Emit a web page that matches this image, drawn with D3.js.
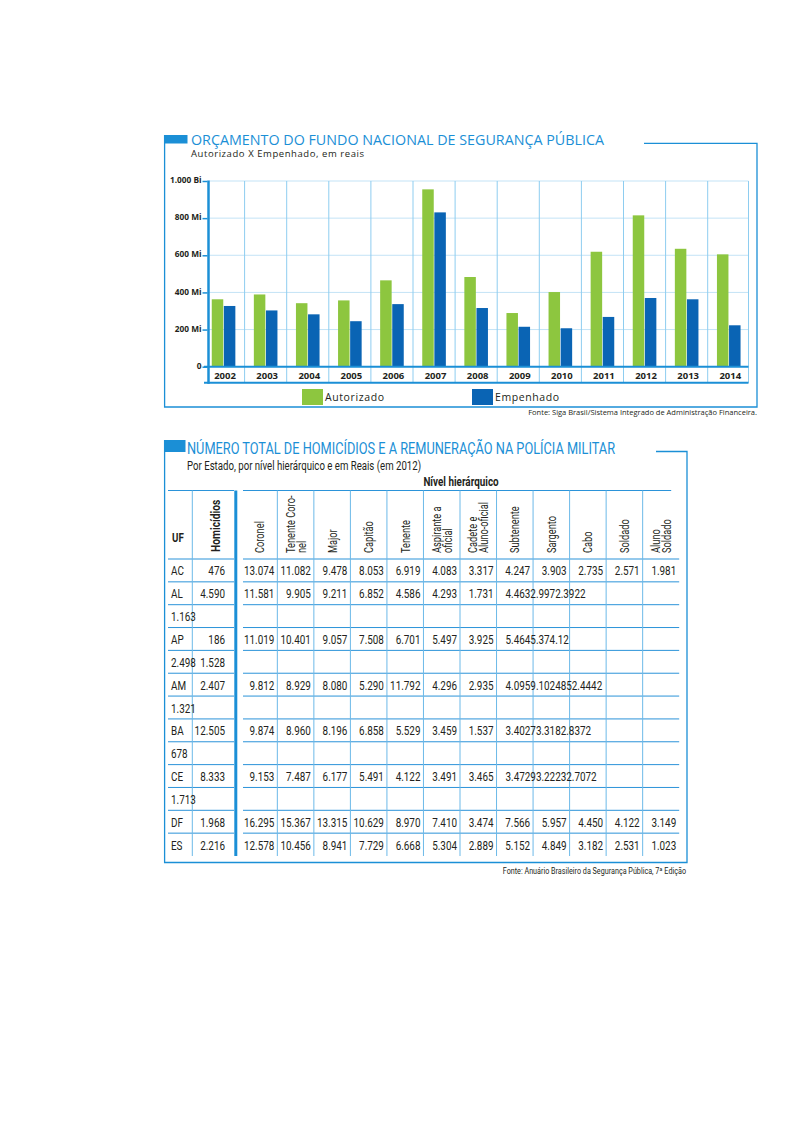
<!DOCTYPE html>
<html><head><meta charset="utf-8">
<script src="https://cdn.jsdelivr.net/npm/d3@7"></script>
<style>body{margin:0;background:#fff} svg{display:block}</style>
</head><body>
<script>
// ---------- Chart 1 data ----------
const years = ["2002","2003","2004","2005","2006","2007","2008","2009","2010","2011","2012","2013","2014"];
const autorizado = [363,389,342,357,465,955,483,289,402,619,815,635,605];
const empenhado  = [327,303,282,245,337,831,316,215,207,268,370,363,223];
const seriesNames = ["Autorizado","Empenhado"];
const yTicks = [0,200,400,600,800,1000];
const yTickLabels = ["0","200 Mi","400 Mi","600 Mi","800 Mi","1.000 Bi"];

// ---------- Table data ----------
const ufLabels = ["AC","AL","1.163","AP","2.498","AM","1.321","BA","678","CE","1.713","DF","ES"];
const homicidios = ["476","4.590","","186","1.528","2.407","","12.505","","8.333","","1.968","2.216"];
const levelLabels = [["Coronel"],["Tenente Coro-","nel"],["Major"],["Capitão"],["Tenente"],["Aspirante a","oficial"],["Cadete e","Aluno-oficial"],["Subtenente"],["Sargento"],["Cabo"],["Soldado"],["Aluno","Soldado"]];
const salaries = [
  ["13.074","11.082","9.478","8.053","6.919","4.083","3.317","4.247","3.903","2.735","2.571","1.981"],
  ["11.581","9.905","9.211","6.852","4.586","4.293","1.731"],
  [],
  ["11.019","10.401","9.057","7.508","6.701","5.497","3.925"],
  [],
  ["9.812","8.929","8.080","5.290","11.792","4.296","2.935"],
  [],
  ["9.874","8.960","8.196","6.858","5.529","3.459","1.537"],
  [],
  ["9.153","7.487","6.177","5.491","4.122","3.491","3.465"],
  [],
  ["16.295","15.367","13.315","10.629","8.970","7.410","3.474","7.566","5.957","4.450","4.122","3.149"],
  ["12.578","10.456","8.941","7.729","6.668","5.304","2.889","5.152","4.849","3.182","2.531","1.023"]
];
// overlapping (garbled) text that starts in the "Subtenente" column
const overflowText = ["", "4.4632.9972.3922", "", "5.4645.374.12", "", "4.0959.1024852.4442", "", "3.40273.3182.8372", "", "3.47293.22232.7072", "", "", ""];

const BLUE = "#1b8fd6";
const INK = "#231f20";
const COND = "Roboto,'Noto Sans',sans-serif";
const SANS = "'Open Sans','Noto Sans',sans-serif";

// squeeze text horizontally to imitate a condensed typeface
function condense(sel, k){
  sel.each(function(){
    const L = this.getComputedTextLength();
    if (L > 0) d3.select(this).attr("textLength", L*k).attr("lengthAdjust","spacingAndGlyphs");
  });
}

const svg = d3.select("body").append("svg").attr("width",794).attr("height",1123);

// ================= Chart 1 =================
const g1 = svg.append("g");
g1.append("rect").attr("x",164).attr("y",135).attr("width",23.5).attr("height",8.5).attr("fill",BLUE);
g1.append("path").attr("d","M164.6,135 V407 H757 V143.4 H644").attr("fill","none").attr("stroke",BLUE).attr("stroke-width",1.3);
g1.append("text").attr("x",191).attr("y",144.5).text("ORÇAMENTO DO FUNDO NACIONAL DE SEGURANÇA PÚBLICA")
  .attr("font-family",SANS).attr("font-size",13.8).attr("fill",BLUE).attr("textLength",413).attr("lengthAdjust","spacingAndGlyphs");
g1.append("text").attr("x",191).attr("y",157).text("Autorizado X Empenhado, em reais")
  .attr("font-family",SANS).attr("font-size",9.5).attr("fill",INK).attr("textLength",173).attr("lengthAdjust","spacing");

const x = d3.scaleBand().domain(years).range([202.5, 749.8]);
const xs = d3.scaleBand().domain(seriesNames).range([0, 23.6]).paddingInner(0.05);
const y = d3.scaleLinear().domain([0,1000]).range([366.7,181]);
const color = d3.scaleOrdinal(seriesNames, ["#8dc63f","#0a64b4"]);
const xLeft = 208.5, xRight = 748.5, rowBottom = 382.8;

// horizontal grid
g1.append("g").selectAll("line").data(yTicks.filter(d=>d>0)).join("line")
  .attr("x1",xLeft).attr("x2",xRight).attr("y1",d=>y(d)).attr("y2",d=>y(d))
  .attr("stroke","#c3e3f6").attr("stroke-width",1);
// vertical grid
g1.append("g").selectAll("line").data(years.slice(1)).join("line")
  .attr("x1",d=>x(d)).attr("x2",d=>x(d)).attr("y1",y(1000)).attr("y2",rowBottom)
  .attr("stroke","#8ecdf0").attr("stroke-width",1);
g1.append("line").attr("x1",xRight).attr("x2",xRight).attr("y1",y(1000)).attr("y2",rowBottom).attr("stroke","#8ecdf0");

// bars
const pairOffset = (x.bandwidth() - 23.6)/2;
const barData = years.flatMap((yr,i)=>[
  {yr, s:"Autorizado", v:autorizado[i]},
  {yr, s:"Empenhado", v:empenhado[i]}]);
g1.append("g").selectAll("rect").data(barData).join("rect")
  .attr("x",d=>x(d.yr)+pairOffset+xs(d.s)).attr("width",xs.bandwidth())
  .attr("y",d=>y(d.v)).attr("height",d=>y(0)-y(d.v)).attr("fill",d=>color(d.s));

// axes lines
g1.append("line").attr("x1",204).attr("x2",xRight).attr("y1",y(0)).attr("y2",y(0)).attr("stroke",BLUE).attr("stroke-width",2);
g1.append("line").attr("x1",204).attr("x2",xRight).attr("y1",rowBottom).attr("y2",rowBottom).attr("stroke",BLUE).attr("stroke-width",2);
g1.append("line").attr("x1",xLeft).attr("x2",xLeft).attr("y1",y(1000)-0.5).attr("y2",rowBottom+1).attr("stroke",BLUE).attr("stroke-width",2.5);

const yAxis = g1.append("g").attr("transform",`translate(${xLeft-1},0)`)
  .call(d3.axisLeft(y).tickValues(yTicks).tickSize(5).tickPadding(1).tickFormat((d,i)=>yTickLabels[i]));
yAxis.select(".domain").remove();
yAxis.selectAll(".tick line").attr("stroke",BLUE).attr("stroke-width",1.5);
yAxis.selectAll(".tick text").attr("font-family",SANS).attr("font-weight","bold").attr("font-size",8.3).attr("fill",INK).attr("dy","0.2em");

// year labels
g1.append("g").selectAll("text").data(years).join("text")
  .attr("x",d=>x(d)+x.bandwidth()/2+1.5).attr("y",378.5).attr("text-anchor","middle")
  .attr("font-family",SANS).attr("font-weight","bold").attr("font-size",9.5).attr("fill",INK).text(d=>d);

// legend
const legX = {"Autorizado":302, "Empenhado":472};
const leg = g1.append("g").selectAll("g").data(seriesNames).join("g").attr("transform",d=>`translate(${legX[d]},389)`);
leg.append("rect").attr("width",21).attr("height",16).attr("fill",d=>color(d));
leg.append("text").attr("x",23).attr("y",12).text(d=>d).attr("font-family",SANS).attr("font-size",10.5)
  .attr("fill",INK).attr("letter-spacing",0.6);

g1.append("text").attr("x",757).attr("y",414.5).attr("text-anchor","end")
  .text("Fonte: Siga Brasil/Sistema Integrado de Administração Financeira.")
  .attr("font-family",SANS).attr("font-size",7.5).attr("fill",INK);

// ================= Table =================
const g2 = svg.append("g");
g2.append("rect").attr("x",164).attr("y",440).attr("width",21.5).attr("height",12).attr("fill",BLUE);
g2.append("path").attr("d","M164.6,440 V862.5 H687 V451.5 H656").attr("fill","none").attr("stroke",BLUE).attr("stroke-width",1.3);
g2.append("text").attr("x",187).attr("y",453.5).text("NÚMERO TOTAL DE HOMICÍDIOS E A REMUNERAÇÃO NA POLÍCIA MILITAR")
  .attr("font-family",COND).attr("font-size",16).attr("fill",BLUE).attr("textLength",428).attr("lengthAdjust","spacingAndGlyphs");
g2.append("text").attr("x",187).attr("y",469.5).text("Por Estado, por nível hierárquico e em Reais (em 2012)")
  .attr("font-family",COND).attr("font-size",12).attr("fill",INK).attr("textLength",234).attr("lengthAdjust","spacingAndGlyphs");
g2.append("text").attr("x",461).attr("y",486).attr("text-anchor","middle").text("Nível hierárquico")
  .attr("font-family",COND).attr("font-weight","bold").attr("font-size",13).attr("fill",INK).call(condense,0.76);

const tTop = 490.5, hdrBottom = 559, tBottom = 856;
const ufX0 = 168, homX0 = 192.3, homX1 = 234, sepX = 235.8;
const col = d3.scaleBand().domain(d3.range(levelLabels.length)).range([240.8, 679.2]);
const row = d3.scaleBand().domain(d3.range(ufLabels.length)).range([hdrBottom, tBottom]);
const rightX0 = 243, rightX1 = col.range()[1];

// horizontal lines
const hLines = [tTop].concat(d3.range(ufLabels.length).map(i=>row(i)));
const hl = g2.append("g").attr("stroke","#2b93d9").attr("stroke-width",1);
hl.selectAll("line.l").data(hLines).join("line").attr("class","l")
  .attr("x1",ufX0).attr("x2",homX1).attr("y1",d=>d).attr("y2",d=>d);
hl.selectAll("line.r").data(hLines).join("line").attr("class","r")
  .attr("x1",rightX0).attr("x2",(d,i)=>i===0 ? rightX1-8 : rightX1).attr("y1",d=>d).attr("y2",d=>d);
// vertical lines
const vl = g2.append("g").attr("stroke","#6cb9e8").attr("stroke-width",1);
vl.append("line").attr("x1",homX0).attr("x2",homX0).attr("y1",tTop).attr("y2",tBottom);
vl.selectAll("line.c").data(d3.range(1,levelLabels.length)).join("line").attr("class","c")
  .attr("x1",d=>col(d)).attr("x2",d=>col(d)).attr("y1",tTop).attr("y2",tBottom);
g2.append("line").attr("x1",sepX).attr("x2",sepX).attr("y1",tTop).attr("y2",tBottom).attr("stroke",BLUE).attr("stroke-width",3);

// header
g2.append("text").attr("x",ufX0+4).attr("y",541.5).text("UF").attr("font-family",COND).attr("font-weight","bold").attr("font-size",13.5).attr("fill",INK).call(condense,0.72);
g2.append("text").attr("transform",`translate(${(homX0+homX1)/2+7},552) rotate(-90)`).text("Homicídios")
  .attr("font-family",COND).attr("font-weight","bold").attr("font-size",13.5).attr("fill",INK).call(condense,0.76);
const hdr = g2.append("g").selectAll("g").data(levelLabels).join("g");
hdr.each(function(lines,i){
  const cx = col(i)+col.bandwidth()/2;
  d3.select(this).selectAll("text").data(lines).join("text")
    .attr("transform",(d,k)=>`translate(${cx+4.5-(lines.length-1)*5.5+k*11},553) rotate(-90)`)
    .text(d=>d).attr("font-family",COND).attr("font-size",12.5).attr("fill",INK).call(condense,0.74);
});

// body
const body = g2.append("g").attr("font-family",COND).attr("font-size",13).attr("fill",INK);
body.selectAll("text.uf").data(ufLabels).join("text").attr("class","uf")
  .attr("x",ufX0+3).attr("y",(d,i)=>row(i)+row.bandwidth()/2+5).text(d=>d).call(condense,0.76);
body.selectAll("text.hom").data(homicidios).join("text").attr("class","hom")
  .attr("x",homX1-9).attr("y",(d,i)=>row(i)+row.bandwidth()/2+5).attr("text-anchor","end").text(d=>d).call(condense,0.76);
const cells = salaries.flatMap((r,i)=>r.map((v,j)=>({i,j,v})));
body.selectAll("text.val").data(cells).join("text").attr("class","val")
  .attr("x",d=>col(d.j)+col.bandwidth()-3).attr("y",d=>row(d.i)+row.bandwidth()/2+5).attr("text-anchor","end").text(d=>d.v).call(condense,0.76);
body.selectAll("text.ovf").data(overflowText).join("text").attr("class","ovf")
  .attr("x",col(7)+9).attr("y",(d,i)=>row(i)+row.bandwidth()/2+5).text(d=>d).call(condense,0.76);

g2.append("text").attr("x",686).attr("y",874).attr("text-anchor","end")
  .text("Fonte: Anuário Brasileiro da Segurança Pública, 7ª Edição")
  .attr("font-family",COND).attr("font-size",9).attr("fill",INK).call(condense,0.8);
</script>
</body></html>
